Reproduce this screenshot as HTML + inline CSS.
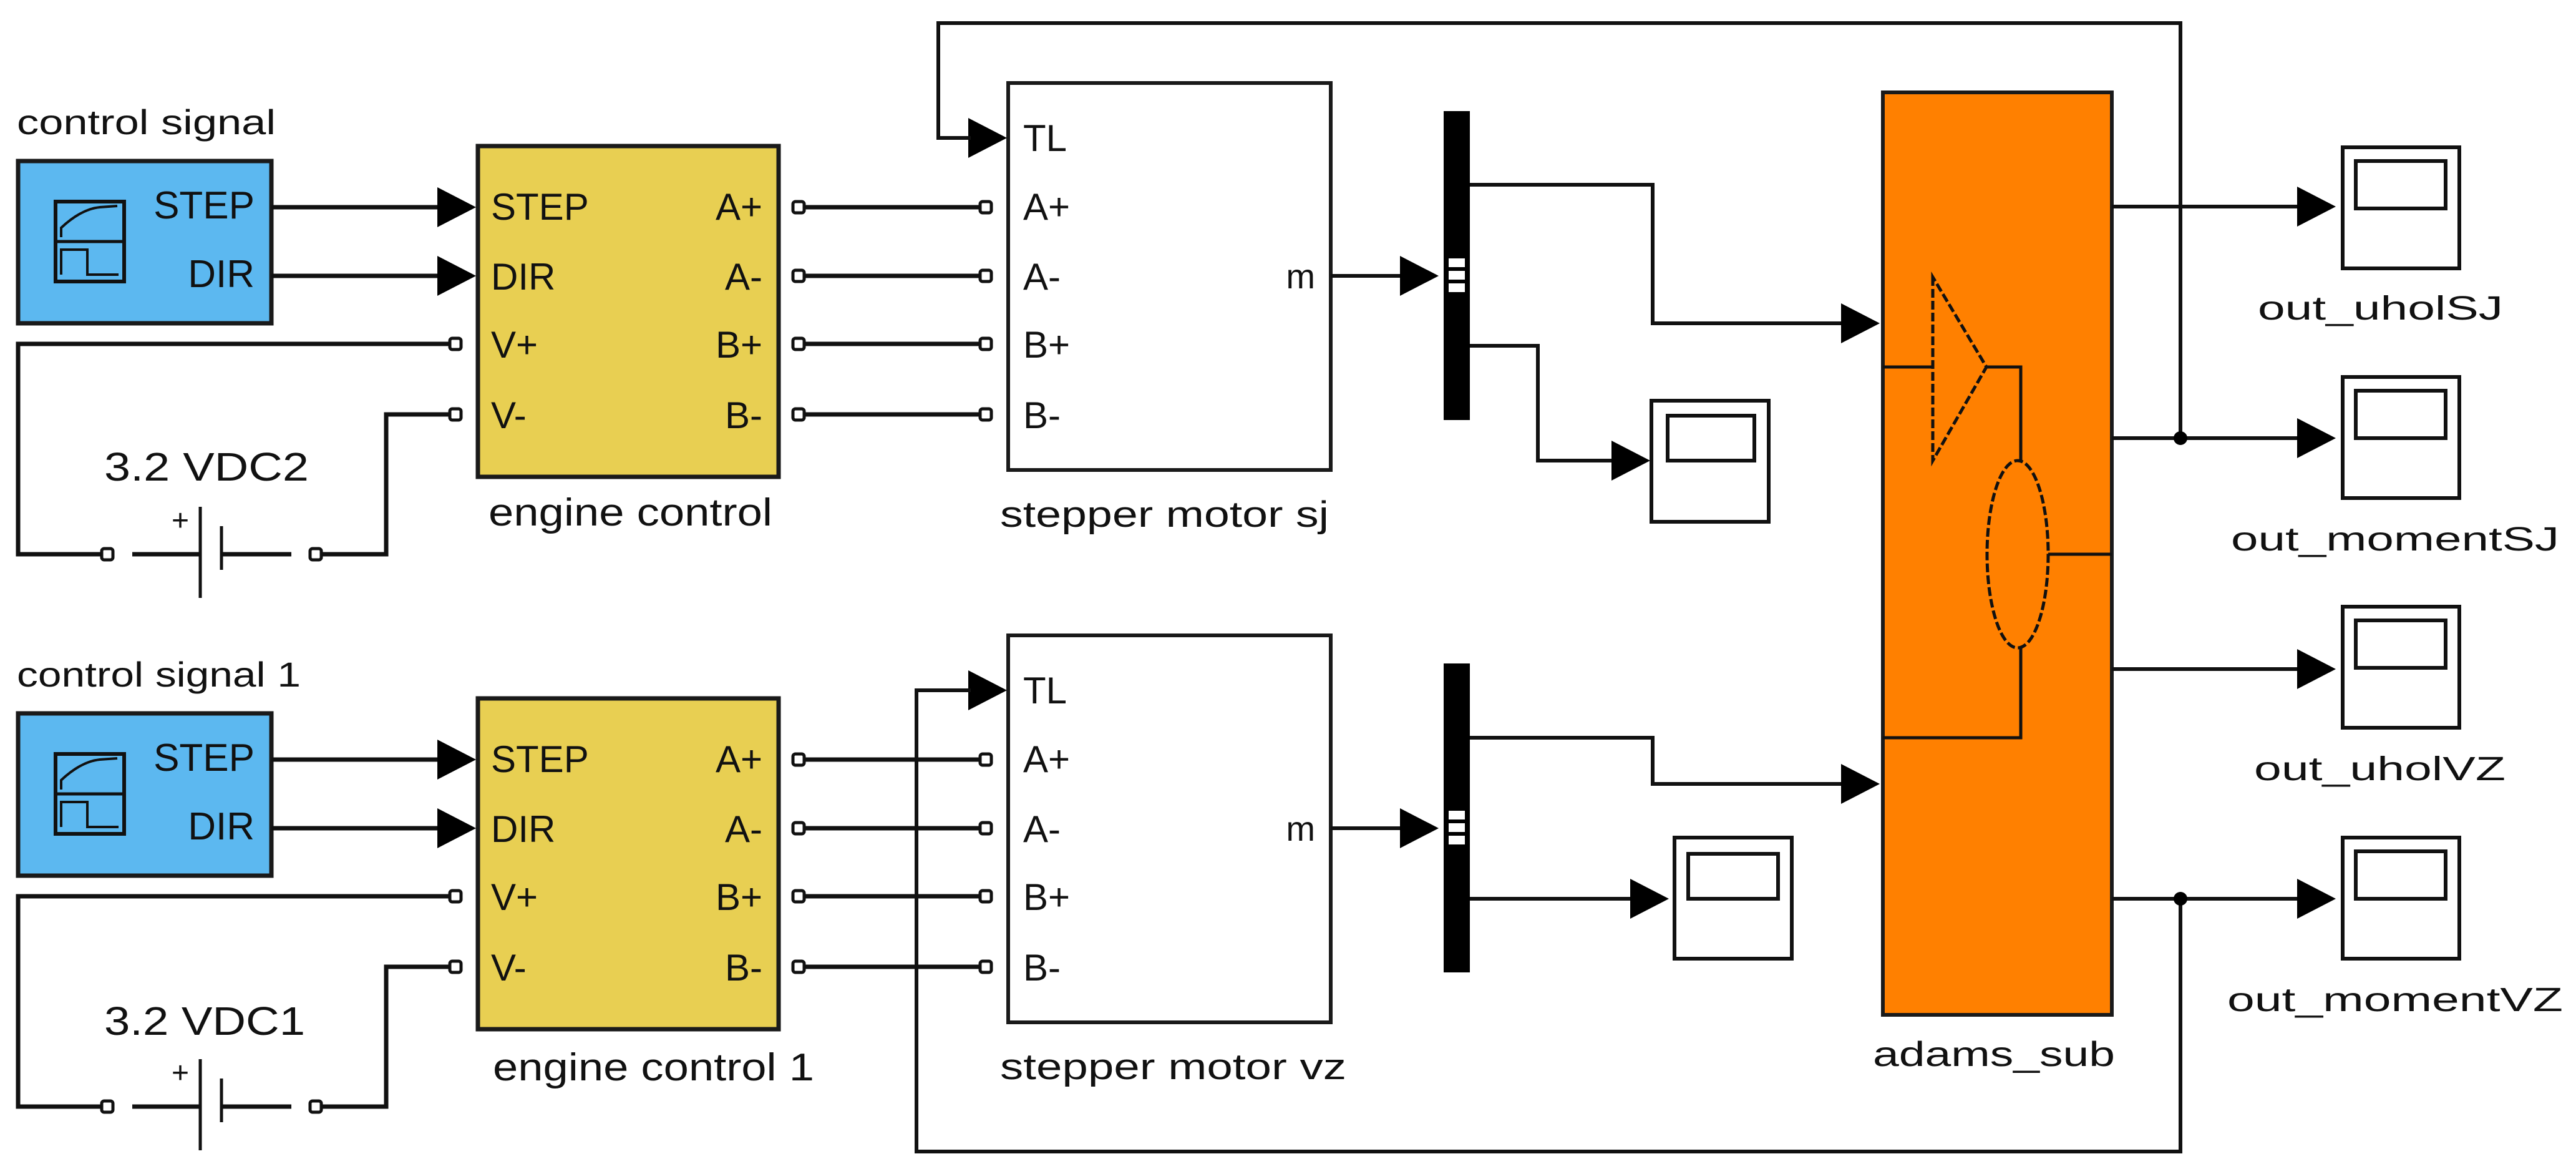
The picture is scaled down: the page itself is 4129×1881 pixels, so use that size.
<!DOCTYPE html>
<html><head><meta charset="utf-8"><style>
html,body{margin:0;padding:0;background:#fff;}
svg{display:block;}
text{font-family:"Liberation Sans",sans-serif;fill:#111;}
</style></head><body>
<svg width="4129" height="1881" viewBox="0 0 4129 1881" xmlns="http://www.w3.org/2000/svg">
<defs>
<g id="port"><rect x="-9" y="-9" width="18" height="18" rx="4" fill="#fff" stroke="#111" stroke-width="5"/></g>
<g id="arr"><polygon points="-62,-32 0,0 -62,32" fill="#000"/></g>
<g id="left">
  <rect x="29" y="258" width="406" height="260" fill="#5CB8F0" stroke="#1a1a1a" stroke-width="7"/>
  <rect x="89" y="323" width="110" height="128" fill="none" stroke="#111" stroke-width="6"/>
  <line x1="89" y1="387" x2="199" y2="387" stroke="#111" stroke-width="5"/>
  <path d="M98 380 L98 365 Q130 335 160 332 L188 330" fill="none" stroke="#111" stroke-width="4"/>
  <path d="M98 440 L98 400 L140 400 L140 440 L190 440" fill="none" stroke="#111" stroke-width="4"/>
  <text x="408" y="350" font-size="62" text-anchor="end">STEP</text>
  <text x="408" y="460" font-size="62" text-anchor="end">DIR</text>
  <line x1="435" y1="332" x2="705" y2="332" stroke="#111" stroke-width="7"/>
  <use href="#arr" x="763" y="332"/>
  <line x1="435" y1="442" x2="705" y2="442" stroke="#111" stroke-width="7"/>
  <use href="#arr" x="763" y="442"/>
  <rect x="766" y="234" width="482" height="530" fill="#E8CF52" stroke="#1a1a1a" stroke-width="7"/>
  <text x="787" y="352" font-size="60">STEP</text>
  <text x="787" y="464" font-size="60">DIR</text>
  <text x="787" y="573" font-size="60">V+</text>
  <text x="787" y="686" font-size="60">V-</text>
  <text x="1222" y="352" font-size="60" text-anchor="end">A+</text>
  <text x="1222" y="464" font-size="60" text-anchor="end">A-</text>
  <text x="1222" y="573" font-size="60" text-anchor="end">B+</text>
  <text x="1222" y="686" font-size="60" text-anchor="end">B-</text>
  <polyline points="722,551 29,551 29,888 165,888" fill="none" stroke="#111" stroke-width="7"/>
  <use href="#port" x="730" y="551"/>
  <use href="#port" x="172" y="888"/>
  <line x1="212" y1="888" x2="321" y2="888" stroke="#111" stroke-width="7"/>
  <line x1="321" y1="812" x2="321" y2="958" stroke="#111" stroke-width="5"/>
  <line x1="355" y1="843" x2="355" y2="913" stroke="#111" stroke-width="5"/>
  <line x1="355" y1="888" x2="467" y2="888" stroke="#111" stroke-width="7"/>
  <use href="#port" x="506" y="888"/>
  <polyline points="514,888 619,888 619,664 722,664" fill="none" stroke="#111" stroke-width="7"/>
  <use href="#port" x="730" y="664"/>
  <text x="275" y="850" font-size="48">+</text>
  <g stroke="#111" stroke-width="7">
    <line x1="1280" y1="332" x2="1580" y2="332"/>
    <line x1="1280" y1="442" x2="1580" y2="442"/>
    <line x1="1280" y1="551" x2="1580" y2="551"/>
    <line x1="1280" y1="664" x2="1580" y2="664"/>
  </g>
  <use href="#port" x="1280" y="332"/><use href="#port" x="1280" y="442"/><use href="#port" x="1280" y="551"/><use href="#port" x="1280" y="664"/>
  <use href="#port" x="1580" y="332"/><use href="#port" x="1580" y="442"/><use href="#port" x="1580" y="551"/><use href="#port" x="1580" y="664"/>
  <rect x="1616" y="133" width="517" height="620" fill="#fff" stroke="#1a1a1a" stroke-width="6"/>
  <use href="#arr" x="1614" y="221"/>
  <text x="1640" y="242" font-size="60">TL</text>
  <text x="1640" y="352" font-size="60">A+</text>
  <text x="1640" y="464" font-size="60">A-</text>
  <text x="1640" y="573" font-size="60">B+</text>
  <text x="1640" y="686" font-size="60">B-</text>
  <text x="2108" y="462" font-size="56" text-anchor="end">m</text>
  <line x1="2133" y1="442" x2="2250" y2="442" stroke="#111" stroke-width="6"/>
  <use href="#arr" x="2306" y="442"/>
  <rect x="2314" y="178" width="42" height="495" fill="#000"/>
  <rect x="2322" y="414" width="26" height="14" fill="#fff"/>
  <rect x="2322" y="434" width="26" height="14" fill="#fff"/>
  <rect x="2322" y="454" width="26" height="14" fill="#fff"/>
</g>
</defs>

<use href="#left"/>
<text x="27" y="215" font-size="56" textLength="415" lengthAdjust="spacingAndGlyphs">control signal</text>
<text x="167" y="770" font-size="64" fill="#222" textLength="328" lengthAdjust="spacingAndGlyphs">3.2 VDC2</text>
<text x="783" y="842" font-size="62" textLength="455" lengthAdjust="spacingAndGlyphs">engine control</text>
<text x="1603" y="844" font-size="58" textLength="527" lengthAdjust="spacingAndGlyphs">stepper motor sj</text>
<polyline points="1556,221 1504,221 1504,37 3495,37 3495,702" fill="none" stroke="#111" stroke-width="6"/>

<use href="#left" y="885"/>
<text x="27" y="1100" font-size="56" textLength="455" lengthAdjust="spacingAndGlyphs">control signal 1</text>
<text x="167" y="1658" font-size="64" fill="#222" textLength="322" lengthAdjust="spacingAndGlyphs">3.2 VDC1</text>
<text x="790" y="1731" font-size="62" textLength="515" lengthAdjust="spacingAndGlyphs">engine control 1</text>
<text x="1603" y="1729" font-size="58" textLength="555" lengthAdjust="spacingAndGlyphs">stepper motor vz</text>
<polyline points="1556,1106 1469,1106 1469,1845 3495,1845 3495,1440" fill="none" stroke="#111" stroke-width="6"/>

<g fill="none" stroke="#111" stroke-width="6">
  <polyline points="2356,296 2649,296 2649,518 2955,518"/>
  <polyline points="2356,554 2465,554 2465,738 2585,738"/>
  <polyline points="2356,1182 2649,1182 2649,1256 2955,1256"/>
  <polyline points="2356,1440 2615,1440"/>
</g>
<use href="#arr" x="3013" y="518"/>
<use href="#arr" x="2645" y="738"/>
<use href="#arr" x="3013" y="1256"/>
<use href="#arr" x="2675" y="1440"/>

<rect x="2647" y="642" width="188" height="194" fill="#fff" stroke="#111" stroke-width="6"/>
<rect x="2673" y="666" width="139" height="72" fill="#fff" stroke="#111" stroke-width="6"/>
<rect x="2684" y="1342" width="188" height="194" fill="#fff" stroke="#111" stroke-width="6"/>
<rect x="2706" y="1368" width="144" height="72" fill="#fff" stroke="#111" stroke-width="6"/>

<rect x="3018" y="148" width="367" height="1478" fill="#FF8000" stroke="#1a1a1a" stroke-width="6"/>
<g fill="none" stroke="#111" stroke-width="5">
  <line x1="3018" y1="588" x2="3098" y2="588"/>
  <polygon points="3098,444 3098,738 3184,588" stroke-dasharray="14,5"/>
  <polyline points="3184,588 3239,588 3239,738"/>
  <ellipse cx="3234" cy="888" rx="49" ry="150" stroke-dasharray="14,5"/>
  <line x1="3283" y1="888" x2="3385" y2="888"/>
  <polyline points="3239,1038 3239,1182 3018,1182"/>
</g>
<text x="3002" y="1708" font-size="56" textLength="388" lengthAdjust="spacingAndGlyphs">adams_sub</text>

<g stroke="#111" stroke-width="6">
  <line x1="3385" y1="331" x2="3690" y2="331"/>
  <line x1="3385" y1="702" x2="3690" y2="702"/>
  <line x1="3385" y1="1072" x2="3690" y2="1072"/>
  <line x1="3385" y1="1440" x2="3690" y2="1440"/>
</g>
<circle cx="3495" cy="702" r="11" fill="#000"/>
<circle cx="3495" cy="1440" r="11" fill="#000"/>
<use href="#arr" x="3744" y="331"/>
<use href="#arr" x="3744" y="702"/>
<use href="#arr" x="3744" y="1072"/>
<use href="#arr" x="3744" y="1440"/>
<g fill="#fff" stroke="#111" stroke-width="6">
  <rect x="3755" y="236" width="187" height="194"/><rect x="3776" y="258" width="144" height="76"/>
  <rect x="3755" y="604" width="187" height="194"/><rect x="3776" y="626" width="144" height="76"/>
  <rect x="3755" y="972" width="187" height="194"/><rect x="3776" y="994" width="144" height="76"/>
  <rect x="3755" y="1342" width="187" height="194"/><rect x="3776" y="1364" width="144" height="76"/>
</g>
<text x="3619" y="512" font-size="54" textLength="393" lengthAdjust="spacingAndGlyphs">out_uholSJ</text>
<text x="3576" y="882" font-size="54" textLength="526" lengthAdjust="spacingAndGlyphs">out_momentSJ</text>
<text x="3613" y="1250" font-size="54" textLength="403" lengthAdjust="spacingAndGlyphs">out_uholVZ</text>
<text x="3570" y="1620" font-size="54" textLength="538" lengthAdjust="spacingAndGlyphs">out_momentVZ</text>
</svg>
</body></html>
